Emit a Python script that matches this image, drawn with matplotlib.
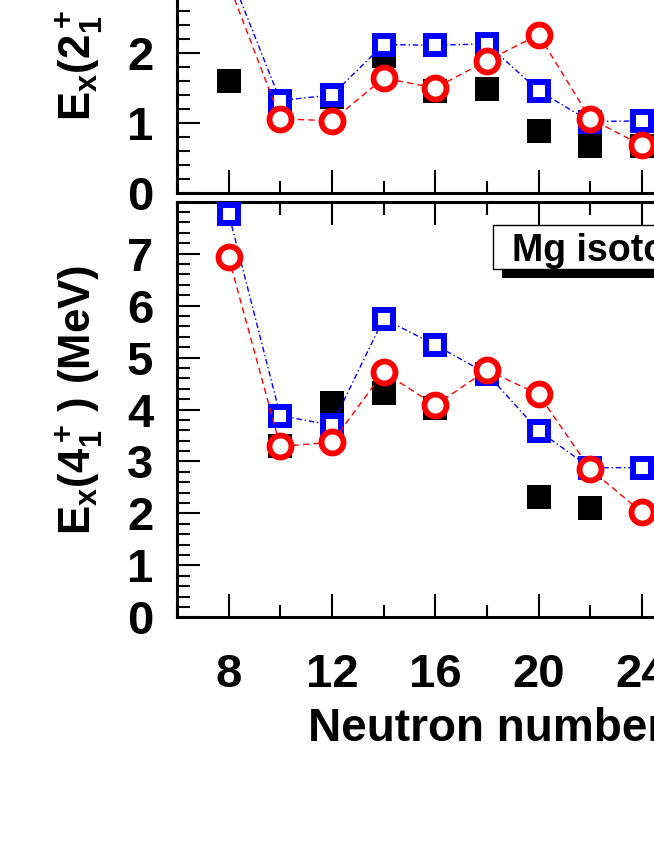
import numpy as np
import matplotlib
matplotlib.use('Agg')
from matplotlib import pyplot as plt
from matplotlib.ticker import MultipleLocator

# Mg isotopes: excitation energies of first 2+ and 4+ states vs neutron number
neutrons = [8, 10, 12, 14, 16, 18, 20, 22, 24]

# E(2+_1) in MeV
exp_2 = [1.60, 1.25, 1.37, 1.95, 1.46, 1.48, 0.89, 0.67, 0.67]
calc_a_2 = [3.18, 1.32, 1.40, 2.12, 2.11, 2.13, 1.46, 1.02, 1.03]
calc_b_2 = [2.99, 1.06, 1.03, 1.64, 1.50, 1.89, 2.26, 1.06, 0.68]

# E(4+_1) in MeV (nan = no data point)
exp_4 = [np.nan, 3.29, 4.12, 4.31, 4.02, np.nan, 2.32, 2.11, np.nan]
calc_a_4 = [7.77, 3.88, 3.70, 5.75, 5.24, 4.69, 3.59, 2.88, 2.88]
calc_b_4 = [6.93, 3.29, 3.37, 4.72, 4.08, 4.76, 4.29, 2.85, 2.02]

plt.rcParams['font.family'] = ['Liberation Sans', 'DejaVu Sans']
plt.rcParams['font.weight'] = 'bold'
plt.rcParams['axes.labelweight'] = 'bold'
plt.rcParams['mathtext.fontset'] = 'custom'
plt.rcParams['mathtext.rm'] = 'Liberation Sans'
plt.rcParams['mathtext.bf'] = 'Liberation Sans:bold'
plt.rcParams['mathtext.it'] = 'Liberation Sans:italic'

fig = plt.figure(figsize=(6.54, 8.46), dpi=100)
# the original is a crop of a bigger figure, so the axes run past the top and right edge
ax1 = fig.add_axes([0.2706, 0.7719, 0.948, 0.4965])
ax2 = fig.add_axes([0.2706, 0.2703, 0.948, 0.4913])


def draw(ax, exp, calc_a, calc_b):
    ax.plot(neutrons, exp, ls='none', marker='s', ms=16.8, mew=0,
            color='black', zorder=3)
    ax.plot(neutrons, calc_a, color='blue', lw=1, dashes=(4, 2, 1, 2),
            marker='s', ms=13, mfc='white', mec='blue', mew=4.3, zorder=4)
    ax.plot(neutrons, calc_b, color='red', lw=1, dashes=(4.5, 3),
            marker='o', ms=15.8, mfc='white', mec='red', mew=4.2, zorder=5)
    ax.set_xlim(6, 30)
    ax.xaxis.set_major_locator(MultipleLocator(4))
    ax.xaxis.set_minor_locator(MultipleLocator(2))
    ax.yaxis.set_minor_locator(MultipleLocator(0.2))
    ax.tick_params(which='both', direction='in', top=True, right=True,
                   width=1.5, labelsize=34)
    ax.tick_params(axis='y', pad=17)
    ax.tick_params(axis='x', pad=26)
    ax.tick_params(which='major', length=16.5)
    ax.tick_params(which='minor', length=9)
    for s in ax.spines.values():
        s.set_linewidth(2.2)


draw(ax1, exp_2, calc_a_2, calc_b_2)
ax1.set_ylim(0, 6)
ax1.set_yticks(range(0, 7))
ax1.tick_params(labelbottom=False)
ax1.set_ylabel(r'$\mathbf{E_x(2^+_1\,)\ (MeV)}$', fontsize=31.5)
ax1.yaxis.set_label_coords(-0.116, 0.492)

draw(ax2, exp_4, calc_a_4, calc_b_4)
ax2.set_ylim(0, 8)
ax2.set_yticks(range(0, 8))
ax2.set_ylabel(r'$\mathbf{E_x(4^+_1\,)\ (MeV)}$', fontsize=31.5)
ax2.yaxis.set_label_coords(-0.116, 0.523)
ax2.set_xlabel('Neutron number', fontsize=33, labelpad=7)

# label box with drop shadow
ax2.add_patch(plt.Rectangle((18.6, 6.53), 10, 0.86, fc='black', ec='none', zorder=6))
ax2.add_patch(plt.Rectangle((18.25, 6.70), 10, 0.86, fc='white', ec='black', lw=1, zorder=7))
ax2.text(18.98, 6.85, 'Mg isotopes', fontsize=27, fontweight='bold',
         ha='left', va='baseline', zorder=8)

plt.savefig('out.png', dpi=100)
